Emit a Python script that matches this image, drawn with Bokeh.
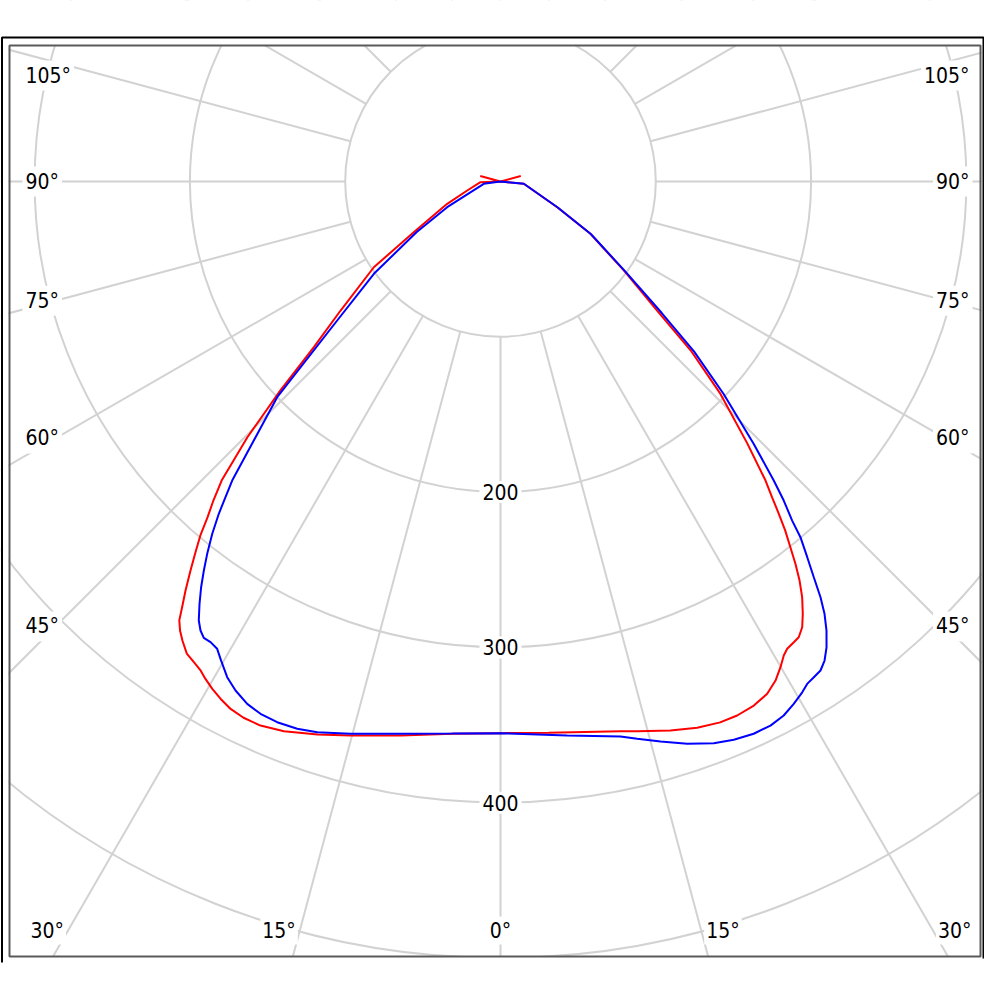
import numpy as np
from bokeh.plotting import figure
from bokeh.models import Range1d
from bokeh.embed import file_html
from bokeh.resources import INLINE
from bokeh.core.properties import value

# ---------------- data: luminous intensity vs. gamma angle (deg from nadir) ----------------
# red curve, right half (C0)
red_c0_gamma = [0, 5, 12.3, 13.97, 17.2, 19.8, 22.1, 23.9, 25.8, 27.5, 28.86, 29.96, 30.86,
                31.53, 32.48, 33.2, 34.09, 34.96, 35.97, 36.85, 37.65, 38.4, 39.2, 39.95,
                40.7, 41.55, 43.3, 46.0, 48.4, 50.5, 54.2, 59.8, 65.6, 84.4, 90, 105]
red_c0 = [355.2, 356.3, 362.3, 364.7, 370.1, 373.9, 375.9, 376.1, 374.8, 371.9, 366.9,
          361.0, 355.6, 353.0, 351.7, 350.7, 346.6, 339.7, 330.7, 321.1, 310.9, 300.5,
          290.1, 279.1, 268.2, 257.3, 231.7, 196.9, 163.7, 130.7, 97.9, 67.0, 40.1, 15.1,
          0.0, 13.5]

# red curve, left half (C180)
red_c180_gamma = [0, 5, 10.2, 15.15, 18.3, 21.5, 23.8, 25.6, 27.1, 28.4, 29.6, 30.7, 31.5,
                  32.5, 33.6, 34.7, 35.5, 36.2, 36.8, 37.6, 38.55, 39.45, 40.3, 41.1, 42.0,
                  43.0, 44.7, 46.5, 48.4, 51.1, 55.9, 59.7, 67.3, 74.9, 88.0, 90, 105]
red_c180 = [355.2, 357.0, 362.5, 369.6, 375.1, 380.5, 382.9, 382.9, 381.5, 378.8, 375.7,
            372.3, 369.4, 367.2, 365.0, 359.7, 355.3, 350.2, 342.2, 332.4, 320.3, 309.1,
            298.8, 287.0, 276.2, 263.3, 231.7, 195.4, 160.7, 132.3, 98.5, 64.7, 37.2, 22.2,
            12.9, 0.0, 13.5]

# blue curve, right half (C90)
blue_c90_gamma = [0, 6.87, 12.2, 13.78, 15.95, 18.37, 20.79, 22.68, 24.63, 26.39, 27.94,
                  29.31, 30.57, 31.4, 32.3, 33.2, 34.08, 34.99, 35.98, 36.85, 37.59, 38.37,
                  39.23, 40.14, 40.7, 41.6, 42.43, 44.0, 46.4, 48.7, 50.8, 54.2, 59.8, 65.6,
                  84.4, 90]
blue_c90 = [355.2, 359.3, 365.6, 369.5, 375.0, 381.5, 386.9, 389.6, 391.2, 391.1, 389.2,
            385.7, 382.0, 379.0, 377.6, 376.3, 372.4, 366.1, 357.3, 347.9, 337.8, 325.0,
            312.3, 299.6, 288.0, 274.7, 260.8, 234.5, 198.4, 166.0, 134.0, 99.0, 67.5, 40.5,
            15.1, 0.0]

# blue curve, left half (C270)
blue_c270_gamma = [0, 5, 10.26, 15.2, 18.4, 20.38, 22.44, 24.27, 25.87, 27.5, 28.87, 30.25,
                   31.23, 32.19, 33.03, 33.75, 34.5, 35.48, 36.42, 37.33, 38.23, 39.29,
                   40.29, 41.06, 41.9, 46.0, 49.6, 53.9, 58.9, 64.3, 82.0, 90]
blue_c270 = [355.2, 356.8, 361.4, 368.5, 373.7, 375.9, 376.7, 376.0, 373.8, 369.5, 364.5,
             357.1, 351.9, 350.5, 350.5, 347.7, 343.0, 333.9, 324.7, 315.0, 305.2, 293.1,
             280.5, 269.6, 258.7, 199.9, 138.1, 100.9, 63.2, 38.1, 10.9, 0.0]

ring_values = [100, 200, 300, 400, 500]
ring_label_values = [200, 300, 400]
ring_label_texts = ["200", "300", "400"]
spoke_angles = list(range(0, 360, 15))
side_label_angles = [105, 90, 75, 60, 45]
side_label_texts = ["105°", "90°", "75°", "60°", "45°"]
bottom_label_angles = [-30, -15, 0, 15, 30]
bottom_label_texts = ["30°", "15°", "0°", "15°", "30°"]

# ---------------- geometry ----------------
PX = 1.553            # pixels per intensity unit
W, H = 984, 966
CX, CY = 500, 181     # pole position inside the figure (px from left / top)


def dx(px):
    return (px - CX) / PX


def dy(py):
    return (CY - py) / PX


p = figure(width=W, height=H, output_backend="svg", toolbar_location=None,
           x_axis_type=None, y_axis_type=None, min_border=0,
           x_range=Range1d(dx(0), dx(W)), y_range=Range1d(dy(H), dy(0)))
p.outline_line_color = None
p.background_fill_color = "white"
p.border_fill_color = "white"
p.xgrid.visible = False
p.ygrid.visible = False

GRID = "#d2d2d2"

# spokes (start at the inner ring)
sa = np.radians(spoke_angles)
r_in = ring_values[0]
r_out = 700
p.segment(x0=r_in * np.sin(sa), y0=-r_in * np.cos(sa),
          x1=r_out * np.sin(sa), y1=-r_out * np.cos(sa),
          line_color=GRID, line_width=2)

# rings
p.circle(x=[0] * len(ring_values), y=[0] * len(ring_values), radius=ring_values,
         fill_color=None, line_color=GRID, line_width=2)

# white masks outside the frame
p.quad(left=[dx(-10), dx(-10), dx(-10), dx(981)],
       right=[dx(W + 10), dx(W + 10), dx(8), dx(W + 10)],
       top=[dy(-10), dy(956), dy(-10), dy(-10)],
       bottom=[dy(45), dy(H + 10), dy(H + 10), dy(H + 10)],
       fill_color="white", line_color=None)

# frames
p.quad(left=[dx(9)], right=[dx(980)], top=[dy(45)], bottom=[dy(956)],
       fill_color=None, line_color="#5a5a5a", line_width=2)
p.line(x=[dx(1.5), dx(1.5), dx(983), dx(983)], y=[dy(962), dy(37), dy(37), dy(958)],
       line_color="black", line_width=2)

FONT = value("DejaVu Sans Condensed")
FS = "21px"

# ring labels
p.text(x=[0] * len(ring_label_values), y=[-v for v in ring_label_values],
       text=ring_label_texts, text_font=FONT, text_font_size=FS,
       text_align="center", text_baseline="middle", text_color="black",
       background_fill_color="white", padding=3)

# side angle labels (left and right)
xref = 286.5
top_limit = dy(75)
ly = []
for a in side_label_angles:
    yy = -xref / np.tan(np.radians(a)) if a != 90 else 0.0
    ly.append(min(yy, top_limit))
p.text(x=[dx(22)] * len(ly), y=ly, text=side_label_texts, text_font=FONT,
       text_font_size=FS, text_align="left", text_baseline="middle",
       text_color="black", background_fill_color="white", padding=3)
p.text(x=[dx(972)] * len(ly), y=ly, text=side_label_texts, text_font=FONT,
       text_font_size=FS, text_align="right", text_baseline="middle",
       text_color="black", background_fill_color="white", padding=3)

# bottom angle labels
yb = dy(930)
for a, t in zip(bottom_label_angles, bottom_label_texts):
    xx = -yb * np.tan(np.radians(a))
    if a < 0:
        align, xx = "right", xx - 2 / PX
    elif a > 0:
        align, xx = "left", xx + 3 / PX
    else:
        align = "center"
    p.text(x=[xx], y=[yb], text=[t], text_font=FONT, text_font_size=FS,
           text_align=align, text_baseline="middle", text_color="black",
           background_fill_color="white", padding=2)


# curves
def branch(angles, vals, side):
    a = np.radians(angles)
    v = np.asarray(vals, dtype=float)
    return side * v * np.sin(a), -v * np.cos(a)


def curve(lg, lv, rg, rv):
    lx, lyy = branch(lg, lv, -1)
    rx, ry = branch(rg, rv, 1)
    return (np.concatenate([lx[::-1], rx[1:]]),
            np.concatenate([lyy[::-1], ry[1:]]))


rx_, ry_ = curve(red_c180_gamma, red_c180, red_c0_gamma, red_c0)
bx_, by_ = curve(blue_c270_gamma, blue_c270, blue_c90_gamma, blue_c90)
p.line(rx_, ry_, line_color="#ff0000", line_width=2)
p.line(bx_, by_, line_color="#0000ff", line_width=2)

open("out.html", "w").write(file_html(p, INLINE))
